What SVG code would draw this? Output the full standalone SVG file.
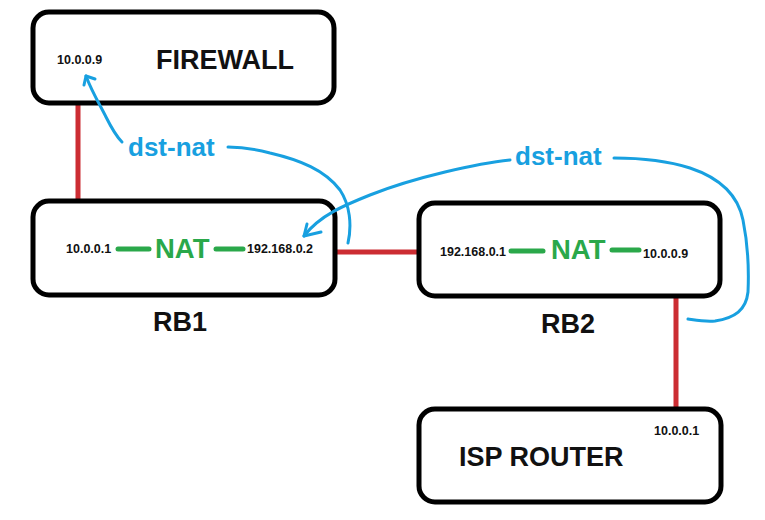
<svg xmlns="http://www.w3.org/2000/svg" width="765" height="520" viewBox="0 0 765 520">
<style>
.box{fill:#fff;stroke:#000;stroke-width:5}
.link{stroke:#cc2d33;stroke-width:5;stroke-linecap:round;fill:none}
.nat{stroke:#2aa84a;stroke-width:5;stroke-linecap:round;fill:none}
.flow{stroke:#18a0e0;stroke-width:3;stroke-linecap:round;stroke-linejoin:round;fill:none}
.ip{font-family:"Liberation Sans",Arial,sans-serif;font-weight:bold;font-size:12.5px;fill:#111}
.name{font-family:"Liberation Sans",Arial,sans-serif;font-weight:bold;font-size:27px;fill:#111}
.natt{font-family:"Liberation Sans",Arial,sans-serif;font-weight:bold;font-size:27.5px;fill:#2aa84a}
.dn{font-family:"Liberation Sans",Arial,sans-serif;font-weight:bold;font-size:26px;fill:#18a0e0}
</style>
<rect width="765" height="520" fill="#fff"/>
<g id="connectors">
<line class="link" x1="78" y1="104" x2="78" y2="199"/>
<line class="link" x1="337" y1="252" x2="417" y2="252"/>
<line class="link" x1="676" y1="298" x2="676" y2="407"/>
</g>
<g id="firewall">
<rect class="box" x="33" y="12" width="301" height="91" rx="16"/>
<text class="ip" x="57" y="64">10.0.0.9</text>
<text class="name" x="156" y="69">FIREWALL</text>
</g>
<g id="rb1">
<rect class="box" x="33" y="201" width="302" height="94" rx="16"/>
<text class="ip" x="66" y="253">10.0.0.1</text>
<line class="nat" x1="118" y1="249" x2="149" y2="249"/>
<text class="natt" x="155" y="258">NAT</text>
<line class="nat" x1="216" y1="249" x2="243" y2="249"/>
<text class="ip" x="247" y="253">192.168.0.2</text>
<text class="name" x="180" y="331" text-anchor="middle" font-size="24">RB1</text>
</g>
<g id="rb2">
<rect class="box" x="419" y="203" width="301" height="93" rx="16"/>
<text class="ip" x="440" y="256">192.168.0.1</text>
<line class="nat" x1="511" y1="251" x2="543" y2="251"/>
<text class="natt" x="551" y="259">NAT</text>
<line class="nat" x1="612" y1="250" x2="639" y2="250"/>
<text class="ip" x="643" y="258">10.0.0.9</text>
<text class="name" x="568" y="333" text-anchor="middle" font-size="24">RB2</text>
</g>
<g id="isp-router">
<rect class="box" x="419" y="409" width="302" height="93" rx="16"/>
<text class="ip" x="654" y="435">10.0.0.1</text>
<text class="name" x="459" y="466">ISP ROUTER</text>
</g>
<g id="flows">
<path class="flow" d="M348,243 C352,225 350,205 340,190 C325,170 300,160 270,153 C255,149 240,147 228,147"/>
<text class="dn" x="128" y="156">dst-nat</text>
<path class="flow" d="M122,142 C115,135 110,125 106,117 C100,105 92,92 86,76"/>
<path class="flow" d="M95,79 L86,76 L84,85"/>
<path class="flow" d="M510,160 C490,162 470,166 445,172 C420,178 395,185 370,195 C345,205 320,215 304,236"/>
<path class="flow" d="M307,224 L304,236 L321,232"/>
<text class="dn" x="515" y="165">dst-nat</text>
<path class="flow" d="M614,158 C640,158 665,160 690,168 C720,178 738,195 743,220 C748,245 749,270 748,292 C746,310 735,318 715,321 C705,322 695,320 688,319"/>
</g>
</svg>
